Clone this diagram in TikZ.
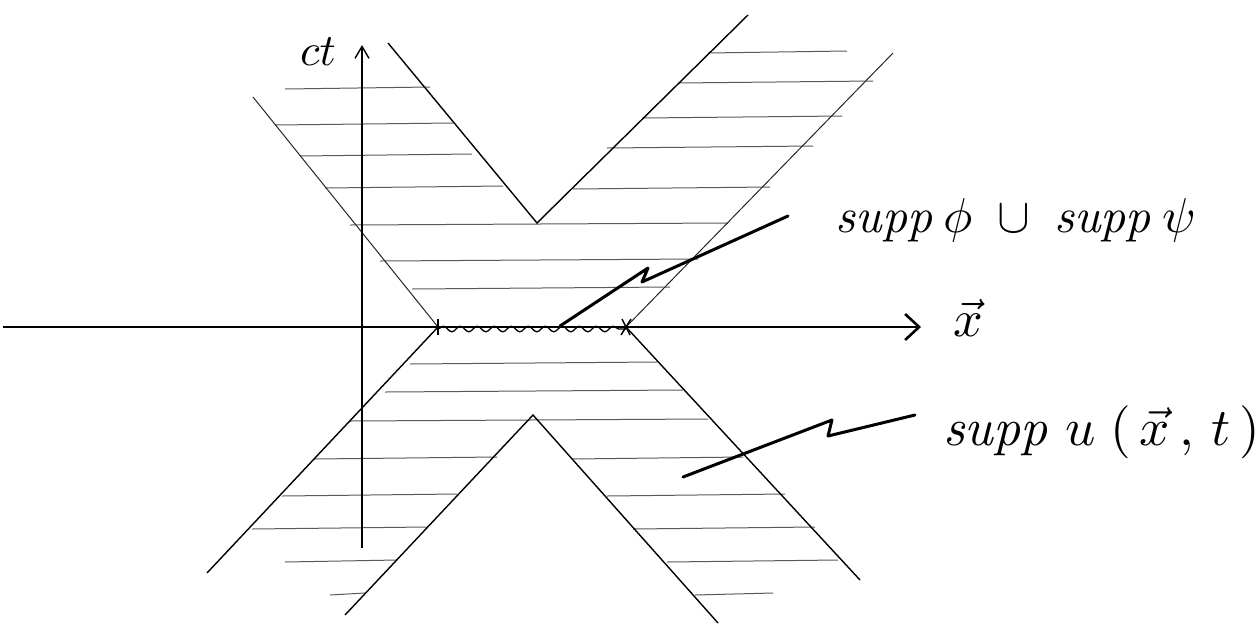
\documentclass[tikz,border=0pt]{standalone}
\usetikzlibrary{arrows.meta,decorations.pathmorphing}
\begin{document}
\begin{tikzpicture}[x=1pt,y=-1pt,
  hatch/.style={black!65, line width=1pt},
  cone/.style={black, line width=1.4pt},
  thincone/.style={black!85, line width=1.0pt},
  axis/.style={black, line width=1.6pt},
  pointer/.style={black, line width=3pt, line join=round, line cap=round},
  lab/.style={inner sep=0pt}]
\useasboundingbox (0,0) rectangle (1258,625);

% key points
\coordinate (L) at (438,327);
\coordinate (R) at (626,327);
\coordinate (A) at (537,223);   % apex of upper inner V
\coordinate (B) at (533,415);   % apex of lower inner Lambda
\coordinate (oTL) at (253,97);
\coordinate (iTL) at (388,43);
\coordinate (iTR) at (748,15);
\coordinate (oTR) at (893,53);
\coordinate (oBL) at (207,573);
\coordinate (iBL) at (345,615);
\coordinate (iBR) at (718,623);
\coordinate (oBR) at (860,580);
\coordinate (xs) at (3,327);
\coordinate (xe) at (921,327);
\coordinate (ts) at (362,548);
\coordinate (te) at (362,45);

% hatching, upper part
\foreach \y/\a/\b in {52/708/847, 82/678/873, 117/642/842, 147/607/813, 188/573/770,
                      88/285/430, 124/275/453, 155/300/472, 187/325/503,
                      224/350/728, 260/380/698, 288/412/670}
  \draw[hatch] (\a,\y+1) -- (\b,\y-1);
% hatching, lower part
\foreach \y/\a/\b in {363/410/657, 391/385/683, 420/350/708,
                      458/313/497, 458/572/743, 495/282/457, 495/607/785,
                      528/252/427, 528/633/815, 561/285/397, 561/667/838,
                      594/330/365, 594/695/773}
  \draw[hatch] (\a,\y+1) -- (\b,\y-1);

% light-cone boundaries
\draw[thincone] (oTL) -- (L);
\draw[cone] (iTL) -- (A) -- (iTR);
\draw[thincone] (oTR) -- (R);
\draw[cone] (oBL) -- (L);
\draw[cone] (iBL) -- (B) -- (iBR);
\draw[cone] (oBR) -- (R);

% axes
\draw[axis, -{Straight Barb[length=14pt,width=26pt,line width=2.6pt]}] (xs) -- (xe);
\draw[axis, line width=1.5pt, -{Straight Barb[length=12pt,width=14pt,line width=1.4pt]}] (ts) -- (te);

% support of initial data (wavy segment)
\draw[line width=1.3pt, decorate, decoration={snake, amplitude=2.8pt, segment length=17pt}]
  ([yshift=-2pt]L) -- ([yshift=-2pt]R);
\draw[line width=1.5pt] ([yshift=-8pt]L) -- ([yshift=8pt]L);
\draw[line width=1.5pt] ([shift={(-5pt,-8pt)}]R) -- ([shift={(5pt,8pt)}]R);
\draw[line width=1.5pt] ([shift={(-4pt,8pt)}]R) -- ([shift={(4pt,-8pt)}]R);

% labels
\node[lab, scale=4.5] (ct) at (318,52) {$ct$};
\node[lab, scale=5.2] (xl) at (968,318) {$\vec{x}$};
\node[lab, scale=4.9, anchor=west] (phipsi) at (835,220)
  {$\mathit{supp}\,\phi\;\cup\;\mathit{supp}\,\psi$};
\node[lab, scale=5.3, anchor=west] (ul) at (942,432)
  {$\mathit{supp}\;u\;(\,\vec{x}\,,\,t\,)$};

% pointers
\coordinate (p1s) at (560,326);
\coordinate (p1a) at (648,268);
\coordinate (p1b) at (642,282);
\coordinate (p1e) at (788,216);
\draw[pointer] (p1s) -- (p1a) -- (p1b) -- (p1e);
\coordinate (p2s) at (683,477);
\coordinate (p2a) at (832,420);
\coordinate (p2b) at (828,436);
\coordinate (p2e) at (915,415);
\draw[pointer] (p2s) -- (p2a) -- (p2b) -- (p2e);
\end{tikzpicture}
\end{document}
